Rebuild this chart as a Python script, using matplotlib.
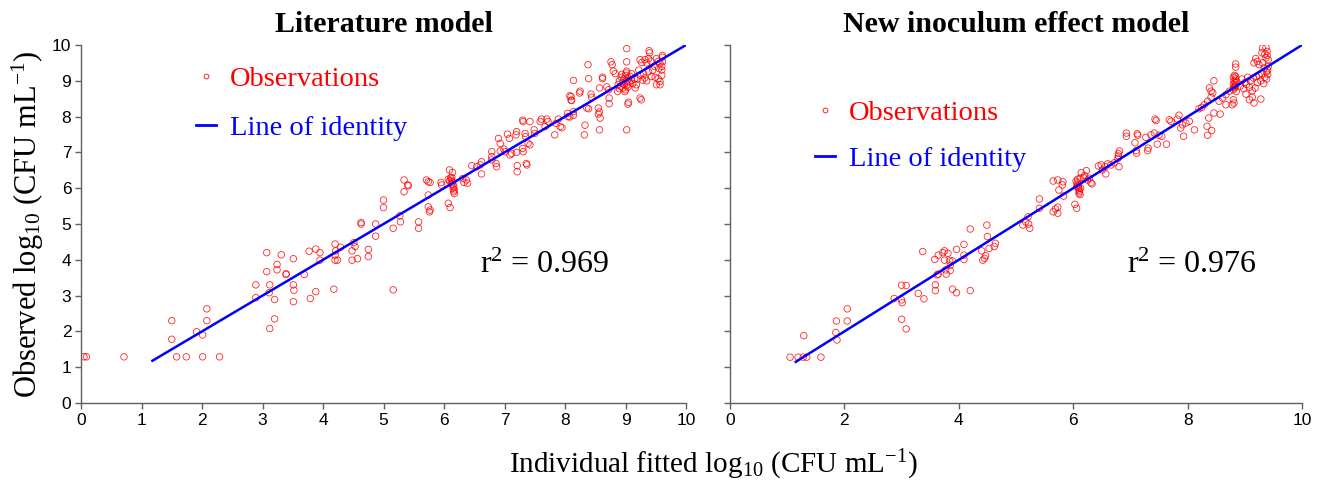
import numpy as np
import matplotlib
matplotlib.use("Agg")
import matplotlib.pyplot as plt
from matplotlib.lines import Line2D

plt.rcParams['mathtext.fontset'] = 'custom'
plt.rcParams['mathtext.rm'] = 'Liberation Serif'
plt.rcParams['mathtext.it'] = 'Liberation Serif:italic'
plt.rcParams['mathtext.bf'] = 'Liberation Serif:bold'

# ---- data ----
# Literature model: (fitted, observed)
lit_pts = [
    (0.05, 1.29), (0.09, 1.29), (0.71, 1.29), (1.58, 1.29), (1.74, 1.29), (2.01, 1.29), (2.29, 1.29),
    (1.50, 2.30), (1.50, 1.78), (1.91, 1.99), (2.01, 1.90), (2.08, 2.30), (2.08, 2.63),
    (2.89, 3.30), (2.89, 2.94), (3.07, 4.20), (3.07, 3.67), (3.12, 3.30), (3.11, 3.08), (3.12, 2.08),
    (3.20, 2.35), (3.20, 2.89), (3.24, 3.87), (3.24, 3.72), (3.31, 4.14), (3.39, 3.59), (3.39, 3.61),
    (3.51, 4.03), (3.51, 3.30), (3.52, 3.15), (3.51, 2.83), (3.69, 3.59), (3.77, 4.24), (3.79, 2.92),
    (3.88, 4.30), (3.88, 3.11), (3.95, 4.20), (3.95, 3.99), (4.18, 3.18), (4.20, 4.44), (4.21, 4.25),
    (4.20, 4.13), (4.20, 3.99), (4.24, 3.99), (4.29, 4.35), (4.48, 4.25), (4.48, 3.99), (4.57, 4.03),
    (4.51, 4.48), (4.53, 4.37), (4.63, 5.04), (4.63, 5.00), (4.75, 4.29), (4.75, 4.09), (4.87, 5.00),
    (4.87, 4.66), (5.00, 5.67), (5.00, 5.46), (5.16, 4.88), (5.16, 3.16),
    (5.27, 5.23), (5.28, 5.06), (5.34, 6.23), (5.40, 6.09), (5.41, 6.07), (5.34, 5.90), (5.58, 5.06),
    (5.58, 4.88), (5.71, 6.23), (5.74, 6.18), (5.77, 6.16), (5.74, 5.81), (5.74, 5.48), (5.77, 5.39),
    (5.76, 5.34), (5.95, 6.16), (5.96, 6.09), (6.07, 5.58), (6.10, 5.46),
    (6.09, 6.51), (6.14, 6.44), (6.11, 6.29), (6.12, 6.22), (6.14, 6.18), (6.15, 6.10), (6.16, 6.05),
    (6.15, 6.00), (6.17, 5.95), (6.16, 5.90), (6.17, 5.85), (6.13, 6.12), (6.09, 6.20), (6.07, 6.25),
    (6.13, 6.30), (6.31, 6.27), (6.33, 6.16), (6.37, 6.23), (6.39, 6.14),
    (6.46, 6.63), (6.54, 6.60), (6.60, 6.65), (6.62, 6.74), (6.62, 6.40),
    (6.79, 7.02), (6.79, 6.88), (6.79, 6.79), (6.86, 6.69), (6.87, 6.60), (6.90, 7.39), (6.93, 7.25),
    (6.93, 7.04), (6.99, 7.09), (7.01, 7.02), (7.05, 7.51), (7.08, 7.39), (7.12, 6.97), (7.09, 6.93),
    (7.19, 7.49), (7.20, 7.58), (7.20, 7.00), (7.21, 6.63), (7.21, 6.46), (7.30, 7.11), (7.31, 7.02),
    (7.30, 7.90), (7.31, 7.86), (7.34, 7.53), (7.35, 7.44), (7.36, 6.69), (7.37, 6.65), (7.39, 7.25),
    (7.42, 7.21), (7.42, 7.86), (7.49, 7.63), (7.50, 7.53), (7.59, 7.86), (7.61, 7.93), (7.67, 7.72),
    (7.70, 7.93), (7.72, 7.86), (7.83, 7.49), (7.85, 7.81), (7.89, 7.93), (7.92, 7.72), (7.95, 7.69),
    (8.04, 8.09), (8.05, 8.00), (8.08, 7.99), (8.14, 8.04), (8.14, 8.14), (8.10, 8.56), (8.10, 8.46),
    (8.08, 8.58), (8.11, 8.45), (8.14, 9.01), (8.24, 8.66), (8.25, 8.71), (8.32, 7.49), (8.33, 7.76),
    (8.36, 8.24), (8.39, 8.22), (8.38, 9.45), (8.39, 9.06), (8.43, 8.63), (8.44, 8.54), (8.55, 8.24),
    (8.57, 8.13), (8.58, 7.96), (8.55, 8.07), (8.57, 7.63), (8.57, 8.80), (8.62, 9.10), (8.62, 9.06),
    (8.69, 8.83), (8.72, 8.75), (8.73, 8.52), (8.73, 8.36), (8.76, 9.53), (8.78, 9.45), (8.80, 9.27),
    (8.83, 9.20), (8.88, 8.90), (8.90, 9.00), (8.92, 8.85), (8.93, 9.10), (8.95, 8.95), (8.96, 8.80),
    (8.97, 9.05), (8.98, 8.90), (9.00, 9.15), (9.00, 8.75), (9.02, 9.00), (9.03, 8.88), (9.05, 9.08),
    (9.06, 8.95), (9.08, 9.12), (9.10, 9.02), (9.12, 8.92), (9.15, 9.05), (8.90, 8.78), (8.87, 8.70),
    (8.94, 9.18), (8.99, 8.70), (9.01, 9.22), (9.04, 8.82),
    (9.02, 9.90), (9.02, 9.53), (9.02, 9.27), (9.02, 7.63), (9.05, 8.40), (9.04, 8.35), (9.16, 8.80),
    (9.18, 8.89), (9.24, 8.52), (9.26, 8.47), (9.24, 9.59), (9.27, 9.51), (9.32, 9.59), (9.38, 9.62),
    (9.39, 9.84), (9.40, 9.78), (9.51, 9.62), (9.54, 9.54), (9.57, 9.48), (9.61, 9.54), (9.61, 9.71),
    (9.61, 9.66), (9.32, 9.08), (9.35, 9.00), (9.43, 9.12), (9.49, 9.10), (9.54, 9.06), (9.57, 8.98),
    (9.51, 8.89), (9.57, 8.89), (9.25, 9.15), (9.30, 9.20), (9.38, 9.25), (9.45, 9.30), (9.20, 9.05),
    (9.28, 9.02), (9.60, 9.15), (9.60, 9.40), (9.60, 9.30), (9.55, 9.35), (9.48, 9.40), (9.42, 9.55),
    (9.35, 9.50), (9.22, 9.30), (9.10, 9.20),
]

# New inoculum effect model: (fitted, observed)
new_pts = [
    (1.05, 1.28), (1.19, 1.28), (1.28, 1.28), (1.34, 1.28), (1.59, 1.28), (1.29, 1.88),
    (1.86, 2.29), (1.85, 1.97), (1.87, 1.76), (2.05, 2.63), (2.05, 2.29),
    (2.87, 2.92), (3.00, 3.29), (3.08, 3.28), (3.00, 2.88), (3.01, 2.80), (3.00, 2.34), (3.08, 2.07),
    (3.29, 3.06), (3.37, 4.23), (3.39, 2.91), (3.59, 3.30), (3.59, 3.14), (3.62, 3.58), (3.64, 3.60),
    (3.58, 4.01), (3.64, 4.13), (3.72, 4.20), (3.75, 4.25), (3.75, 3.99), (3.77, 3.72), (3.78, 3.60),
    (3.84, 3.97), (3.89, 3.97), (3.85, 3.70), (3.81, 4.18), (3.85, 3.85), (3.89, 3.18), (3.96, 3.08),
    (3.96, 4.29), (4.09, 4.43), (4.09, 4.13), (4.09, 4.01), (4.20, 4.86), (4.20, 3.14), (4.40, 4.25),
    (4.42, 3.99), (4.45, 4.04), (4.47, 4.11), (4.49, 4.97), (4.50, 4.65), (4.53, 4.32), (4.62, 4.37),
    (4.64, 4.46),
    (5.12, 4.97), (5.17, 5.06), (5.21, 5.20), (5.24, 4.88), (5.22, 5.00), (5.41, 5.70), (5.41, 5.44),
    (5.65, 5.34), (5.73, 5.30), (5.73, 5.47), (5.69, 5.42), (5.65, 6.20), (5.73, 6.23), (5.82, 6.18),
    (5.75, 5.95), (5.83, 5.78), (5.81, 6.09), (6.03, 5.55), (6.06, 5.44),
    (6.05, 6.20), (6.07, 6.15), (6.08, 6.10), (6.09, 6.05), (6.10, 6.00), (6.10, 5.95), (6.11, 5.90),
    (6.10, 5.85), (6.12, 5.82), (6.08, 6.25), (6.12, 6.28), (6.06, 6.05), (6.13, 6.00),
    (6.14, 6.43), (6.23, 6.49), (6.18, 6.30), (6.25, 6.23), (6.31, 6.15), (6.33, 6.12), (6.20, 6.35),
    (6.28, 6.28), (6.44, 6.62), (6.49, 6.65), (6.56, 6.60), (6.60, 6.68), (6.66, 6.65), (6.51, 6.51),
    (6.57, 6.40), (6.72, 6.71), (6.78, 6.83), (6.79, 6.97), (6.81, 7.04), (6.80, 6.60), (6.79, 6.90),
    (6.93, 7.54), (6.93, 7.45), (7.12, 7.52), (7.13, 7.48), (7.08, 7.27), (7.10, 7.05), (7.11, 6.98),
    (7.30, 7.05), (7.31, 7.12), (7.27, 7.42), (7.36, 7.49), (7.42, 7.54), (7.50, 7.48), (7.55, 7.45),
    (7.47, 7.23), (7.63, 7.23), (7.43, 7.93), (7.45, 7.89), (7.68, 7.91), (7.71, 7.87), (7.82, 7.93),
    (7.85, 8.04), (7.91, 7.77), (7.97, 7.82), (8.03, 7.87), (7.88, 7.68), (7.93, 7.45), (8.12, 7.63),
    (8.20, 8.22), (8.25, 8.26), (8.29, 8.33), (8.35, 8.43), (8.41, 8.54), (8.44, 8.66), (8.38, 8.80),
    (8.46, 9.00), (8.41, 8.71), (8.37, 7.96), (8.46, 8.10), (8.57, 8.07), (8.34, 7.73), (8.42, 7.61),
    (8.35, 7.48), (8.55, 8.43), (8.61, 8.52), (8.67, 8.61), (8.73, 8.71), (8.67, 8.33), (8.80, 8.47),
    (8.81, 8.38), (8.78, 8.33),
    (8.80, 8.75), (8.82, 8.80), (8.84, 8.85), (8.80, 8.90), (8.83, 8.95), (8.81, 9.00), (8.84, 9.05),
    (8.80, 9.10), (8.82, 9.15), (8.85, 8.70), (8.83, 8.88), (8.81, 8.82), (8.84, 9.12), (8.86, 8.98),
    (8.84, 9.47), (8.84, 9.38),
    (8.95, 9.05), (9.00, 8.95), (9.05, 9.10), (9.10, 9.00), (9.15, 9.08), (9.20, 9.12), (9.25, 9.15),
    (9.30, 9.20), (9.35, 9.10), (8.92, 8.85), (8.98, 8.78), (9.03, 8.90), (9.08, 8.82), (9.13, 8.72),
    (9.18, 8.80), (9.22, 8.95), (9.28, 9.00), (9.33, 8.92), (9.38, 9.05), (9.40, 9.18),
    (9.13, 8.54), (9.16, 8.38), (9.28, 8.49), (9.02, 8.63), (9.08, 8.47),
    (9.31, 9.92), (9.37, 9.93), (9.39, 9.82), (9.35, 9.75), (9.30, 9.78), (9.19, 9.62), (9.22, 9.54),
    (9.16, 9.50), (9.25, 9.45), (9.31, 9.50), (9.37, 9.64), (9.39, 9.71), (9.41, 9.59), (9.41, 9.40),
    (9.34, 9.36), (9.40, 9.30), (9.38, 9.25),
]

lit_x = np.array([p[0] for p in lit_pts])
lit_y = np.array([p[1] for p in lit_pts])
new_x = np.array([p[0] for p in new_pts])
new_y = np.array([p[1] for p in new_pts])

# identity line extents
lit_line = [1.18, 10]
new_line = [1.15, 10]

titles = ["Literature model", "New inoculum effect model"]
r2_vals = ["0.969", "0.976"]

serif = "Liberation Serif"
sans = "Liberation Sans"

fig = plt.figure(figsize=(13.24, 4.83), dpi=100)
ax1 = fig.add_axes([81 / 1324, 1 - 403 / 483, 605 / 1324, 358 / 483])
ax2 = fig.add_axes([730 / 1324, 1 - 403 / 483, 572 / 1324, 358 / 483])

panels = [
    (ax1, lit_x, lit_y, lit_line, titles[0], r2_vals[0], np.arange(0, 11, 1), (0.19, 0.94), 0.78, 6.6),
    (ax2, new_x, new_y, new_line, titles[1], r2_vals[1], np.arange(0, 11, 2), (0.148, 0.845), 0.68, 6.94),
]

for ax, xs, ys, line, title, r2, xt, leg_anchor, lspace, r2x in panels:
    ax.scatter(xs, ys, s=22, facecolors='none', edgecolors='red', linewidths=0.6, alpha=0.85, zorder=2)
    ax.plot(line, line, color='blue', lw=1.8, zorder=3)
    ax.set_xlim(0, 10)
    ax.set_ylim(0, 10)
    ax.set_xticks(xt)
    ax.set_yticks(np.arange(0, 11, 1))
    for s in ['top', 'right']:
        ax.spines[s].set_visible(False)
    for s in ['left', 'bottom']:
        ax.spines[s].set_color('#606060')
        ax.spines[s].set_linewidth(1.0)
    ax.tick_params(direction='out', length=4, width=1, color='#606060', labelsize=12.5, pad=3)
    for lab in ax.get_xticklabels() + ax.get_yticklabels():
        lab.set_fontfamily(sans)
    ax.set_title(title, fontfamily=serif, fontweight='bold', fontsize=21.5, pad=9)
    ax.text(r2x, 3.85, "r$^2$ = " + r2, fontfamily=serif, fontsize=23, va='center', ha='left')

    handles = [
        Line2D([], [], marker='o', ls='none', markersize=3.5, markerfacecolor='none',
               markeredgecolor='red', markeredgewidth=0.6),
        Line2D([], [], color='blue', lw=2),
    ]
    ax.legend(handles, ["Observations", "Line of identity"], loc='upper left',
              bbox_to_anchor=leg_anchor, frameon=False, borderpad=0, borderaxespad=0,
              handlelength=0.7, handletextpad=0.5, labelspacing=lspace,
              labelcolor=['red', 'blue'], prop={'family': serif, 'size': 20.5})

ax2.tick_params(axis='y', labelleft=False)

ax1.set_ylabel("Observed log$_{10}$ (CFU mL$^{-1}$)", fontfamily=serif, fontsize=22, labelpad=4)
fig.text(713 / 1324, 1 - 465 / 483, "Individual fitted log$_{10}$ (CFU mL$^{-1}$)",
         fontfamily=serif, fontsize=21, ha='center', va='center')

fig.savefig("out.png", dpi=100)
